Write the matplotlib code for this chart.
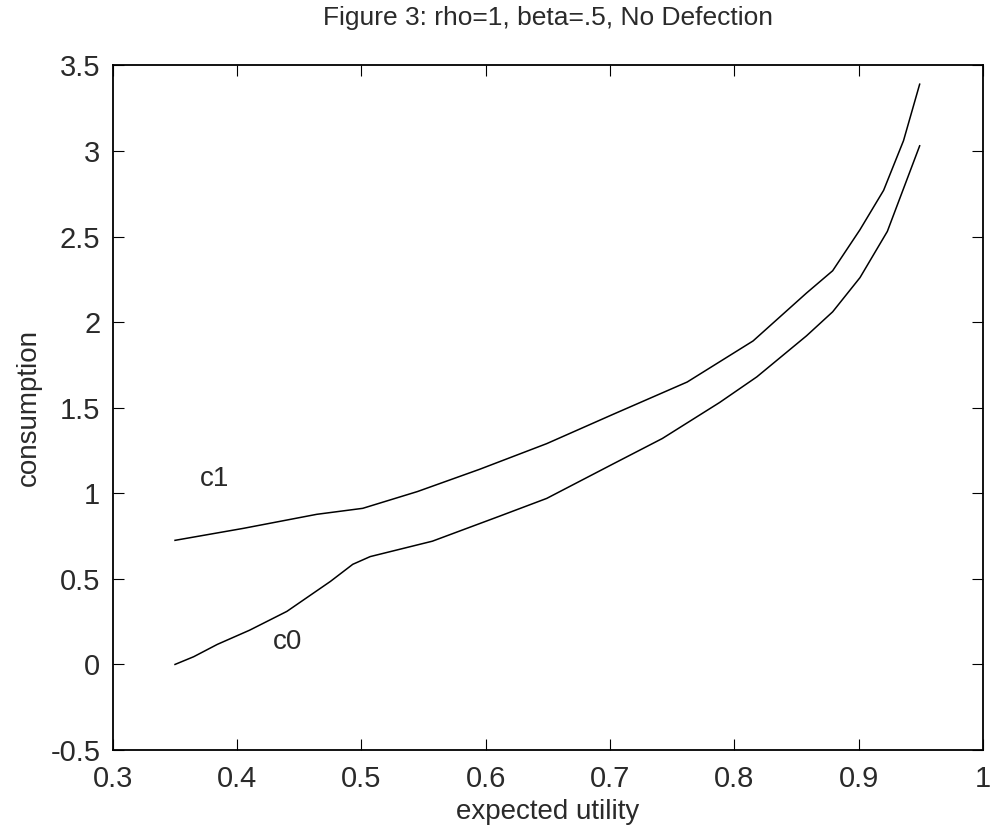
import matplotlib
matplotlib.use("Agg")
import matplotlib.pyplot as plt

# expected utility grid and consumption paths
eu_c1 = [0.35, 0.405, 0.464, 0.501, 0.545, 0.595, 0.649, 0.702, 0.762, 0.815,
         0.858, 0.879, 0.901, 0.920, 0.936, 0.949]
c1 = [0.725, 0.795, 0.877, 0.912, 1.01, 1.14, 1.29, 1.46, 1.65, 1.89,
      2.17, 2.30, 2.54, 2.77, 3.06, 3.39]

eu_c0 = [0.35, 0.365, 0.384, 0.41, 0.44, 0.475, 0.493, 0.507, 0.557, 0.611, 0.649, 0.702,
         0.742, 0.788, 0.818, 0.858, 0.879, 0.901, 0.923, 0.936, 0.949]
c0 = [0.0, 0.045, 0.117, 0.20, 0.31, 0.485, 0.585, 0.63, 0.72, 0.866, 0.97, 1.17,
      1.32, 1.53, 1.68, 1.92, 2.06, 2.26, 2.53, 2.78, 3.03]

plt.rcParams['font.family'] = ['Liberation Sans', 'DejaVu Sans']

fig = plt.figure(figsize=(9.9, 8.38), dpi=100)
ax = fig.add_axes([0.114, 0.105, 0.879, 0.817])

ax.plot(eu_c1, c1, color='black', lw=1.1)
ax.plot(eu_c0, c0, color='black', lw=1.1)
ax.text(0.37, 1.04, 'c1', fontsize=20, color='#2a2a2a')
ax.text(0.429, 0.09, 'c0', fontsize=20, color='#2a2a2a')

ax.set_xlim(0.3, 1.0)
ax.set_ylim(-0.5, 3.5)
ax.set_xticks([0.3, 0.4, 0.5, 0.6, 0.7, 0.8, 0.9, 1.0])
ax.set_xticklabels(['0.3', '0.4', '0.5', '0.6', '0.7', '0.8', '0.9', '1'])
ax.set_yticks([-0.5, 0, 0.5, 1, 1.5, 2, 2.5, 3, 3.5])
ax.set_yticklabels(['-0.5', '0', '0.5', '1', '1.5', '2', '2.5', '3', '3.5'])
ax.tick_params(direction='in', length=8, labelsize=21, labelcolor='#2a2a2a',
               top=True, right=True)
ax.tick_params(axis='x', pad=11)
ax.tick_params(axis='y', pad=9)
for s in ax.spines.values():
    s.set_linewidth(1.3)

ax.set_xlabel('expected utility', fontsize=20, color='#2a2a2a', labelpad=4)
ax.set_ylabel('consumption', fontsize=20, color='#2a2a2a', labelpad=6)
ax.set_title('Figure 3: rho=1, beta=.5, No Defection', fontsize=19,
             color='#2a2a2a', pad=29)

fig.savefig('out.png', dpi=100)
